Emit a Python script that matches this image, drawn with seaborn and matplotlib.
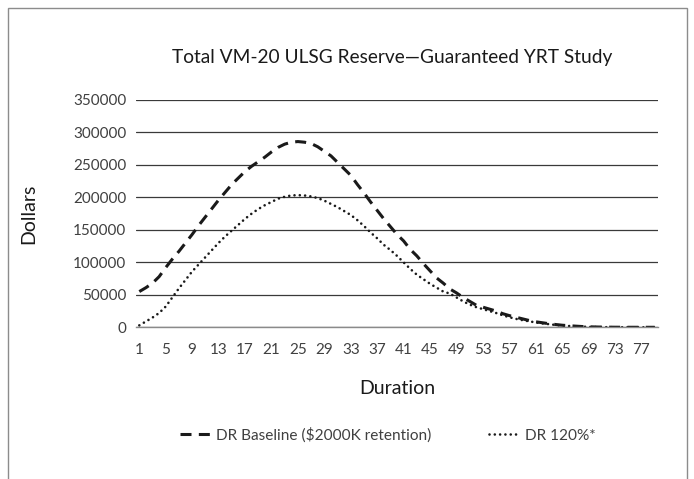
import numpy as np
import pandas as pd
import matplotlib
matplotlib.use("Agg")
import matplotlib.pyplot as plt
import seaborn as sns
from matplotlib.patches import Rectangle
from matplotlib.lines import Line2D

duration = list(range(1, 80))
tick_labels = [str(d) for d in range(1, 80, 4)]

baseline = [55000, 61000, 68000, 78000, 92000, 105000, 117000, 130000, 143000, 157000,
            170000, 183000, 196000, 208000, 220000, 230000, 240000, 248000, 255000, 262000,
            270000, 277000, 282000, 285000, 286000, 285000, 283000, 278000, 271000, 264000,
            254000, 244000, 234000, 220000, 207000, 193000, 180000, 167000, 155000, 143000,
            133000, 120000, 110000, 98000, 87000, 76000, 68000, 59000, 53000, 46000,
            40000, 34000, 31000, 28000, 25000, 21000, 18000, 15500, 13000, 10500,
            8500, 7000, 5500, 4300, 3200, 2500, 1800, 1200, 800, 500,
            300, 200, 100, 50, 30, 20, 10, 0, 0]
dr120 = [3000, 9000, 15000, 22000, 32000, 46000, 60000, 73000, 86000, 97000,
         108000, 119000, 130000, 140000, 149000, 158000, 167000, 175000, 182000, 188000,
         193000, 198000, 201000, 203000, 203500, 203000, 201500, 199000, 195000, 190000,
         185000, 179000, 173000, 165000, 156000, 146000, 137000, 127000, 119000, 110000,
         100000, 90000, 81000, 74000, 67000, 61000, 55000, 52000, 46000, 40000,
         35000, 31000, 28000, 25000, 22000, 18500, 15500, 13000, 11000, 9200,
         7500, 6000, 4800, 3600, 2800, 2000, 1500, 1000, 700, 400,
         250, 150, 80, 40, 20, 10, 5, 0, 0]

series_names = ["DR Baseline ($2000K retention)", "DR 120%*"]
title = "Total VM-20 ULSG Reserve\u2014Guaranteed YRT Study"
y_ticks = [0, 50000, 100000, 150000, 200000, 250000, 300000, 350000]

df = pd.DataFrame({
    "Duration": duration * 2,
    "Dollars": baseline + dr120,
    "Series": [series_names[0]] * len(duration) + [series_names[1]] * len(duration),
})

sns.set_style("white")
plt.rcParams["font.family"] = ["Lato", "DejaVu Sans"]

W, H = 694, 479
fig = plt.figure(figsize=(W / 100, H / 100), dpi=100)
ax = fig.add_axes([136 / W, 1 - 327.3 / H, (658 - 136) / W, (327.3 - 100) / H])

sns.lineplot(data=df, x="Duration", y="Dollars", hue="Series", style="Series",
             palette=["#1a1a1a", "#1a1a1a"],
             dashes={series_names[0]: (3.6, 2.4), series_names[1]: (0.01, 2.0)},
             ax=ax, legend=False)
lines = ax.get_lines()
lines[0].set_linewidth(2.2)
lines[0].set_dash_capstyle("butt")
lines[1].set_linewidth(1.9)
lines[1].set_dash_capstyle("round")

ax.set_xlim(0.5, 79.5)
ax.set_ylim(0, 350000)
ax.set_xticks(list(range(1, 80, 4)))
ax.set_xticklabels(tick_labels)
ax.set_yticks(y_ticks)
ax.set_yticklabels([str(v) for v in y_ticks])
ax.tick_params(axis="both", length=0, labelsize=11, colors="#404040", pad=7)
ax.tick_params(axis="x", pad=11)
for v in y_ticks:
    ax.axhline(v, color="#3a3a3a", lw=0.9, zorder=0)
for s in ["top", "right", "left"]:
    ax.spines[s].set_visible(False)
ax.spines["bottom"].set_color("#8a8a8a")
ax.spines["bottom"].set_linewidth(1.0)
ax.set_xlabel("Duration", fontsize=14, color="#1a1a1a", labelpad=17)
ax.set_ylabel("Dollars", fontsize=14, color="#1a1a1a", labelpad=26)

fig.text(392 / W, 1 - 58 / H, title, ha="center", va="center", fontsize=13.8, color="#1a1a1a")

h0 = Line2D([], [], color="#1a1a1a", lw=2.2, dashes=(3.6, 2.4))
h1 = Line2D([], [], color="#1a1a1a", lw=1.9, dashes=(0.01, 2.0), dash_capstyle="round")
fig.legend([h0, h1], series_names, loc="center", bbox_to_anchor=(388 / W, 1 - 435 / H),
           ncol=2, frameon=False, fontsize=11.1, handlelength=1.9, handletextpad=0.45,
           columnspacing=3.7, labelcolor="#404040")

fig.add_artist(Rectangle((8 / W, -0.05), (687 - 8) / W, (1 - 8 / H) + 0.05,
                         transform=fig.transFigure, fill=False, edgecolor="#8c8c8c", lw=1.0))

fig.savefig("out.png", dpi=100)
